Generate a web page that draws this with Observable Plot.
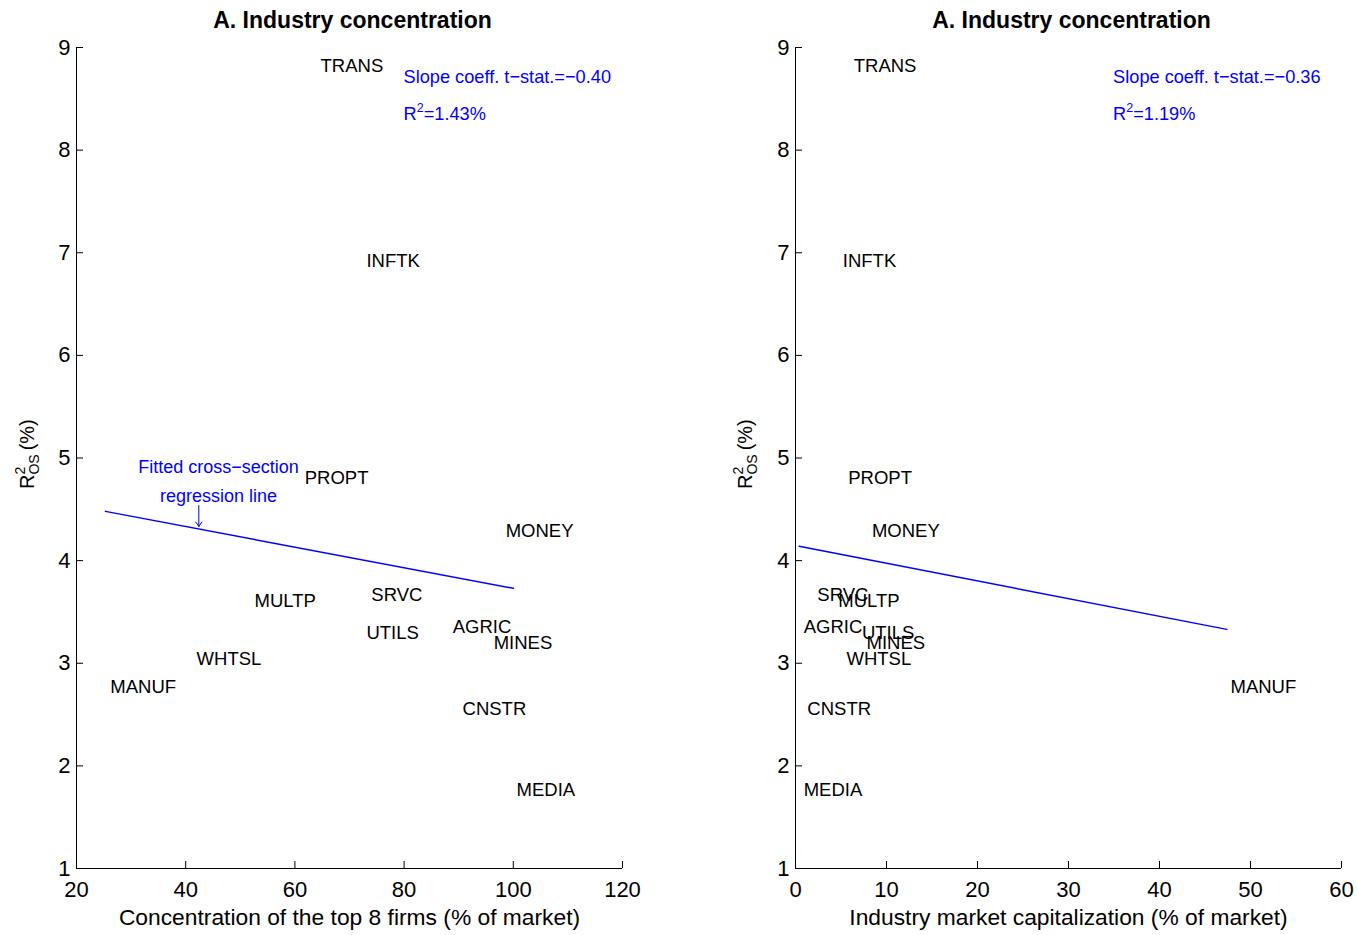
<!DOCTYPE html>
<html>
<head>
<meta charset="utf-8">
<script src="https://cdn.jsdelivr.net/npm/d3@7"></script>
<script src="https://cdn.jsdelivr.net/npm/@observablehq/plot@0.6"></script>
<style>
  html, body { margin: 0; padding: 0; background: #fff; }
  #row { display: flex; flex-direction: row; width: 1357px; height: 935px; }
  svg { font-family: "Liberation Sans", Arial, Helvetica, sans-serif; }
</style>
</head>
<body>
<div id="row"></div>
<script>
// ---- Data ----
const industries = ["TRANS","INFTK","PROPT","MONEY","MULTP","SRVC","UTILS","AGRIC","MINES","WHTSL","MANUF","CNSTR","MEDIA"];
const r2os       = [8.82, 6.92, 4.80, 4.29, 3.61, 3.66, 3.29, 3.35, 3.20, 3.04, 2.77, 2.55, 1.76];
const top8Conc   = [64.7, 73.1, 61.8, 98.6, 52.6, 74.0, 73.1, 88.9, 96.4, 42.0, 26.2, 90.7, 100.6];
const mktCap     = [6.4, 5.2, 5.8, 8.4, 4.7, 2.4, 7.3, 0.9, 7.8, 5.6, 47.8, 1.3, 0.9];

const fitAx = [25.3, 100], fitAy = [4.48, 3.73];
const fitBx = [0.4, 47.4], fitBy = [4.14, 3.33];

const xTicksA = [20, 40, 60, 80, 100, 120];
const xTicksB = [0, 10, 20, 30, 40, 50, 60];
const yTicks  = [1, 2, 3, 4, 5, 6, 7, 8, 9];

const titleText = "A. Industry concentration";
const xLabelA = "Concentration of the top 8 firms (% of market)";
const xLabelB = "Industry market capitalization (% of market)";
const statA = ["Slope coeff. t\u2212stat.=\u22120.40", "R\u00b2=1.43%"];
const statB = ["Slope coeff. t\u2212stat.=\u22120.36", "R\u00b2=1.19%"];
const statAx = 79.9, statBx = 34.9, statYs = [8.71, 8.35];

const fitNote = ["Fitted cross\u2212section", "regression line"];
const fitNoteX = 46.0, fitNoteYs = [4.906, 4.623];
const arrowA = {x: 42.4, y1: 4.537, y2: 4.333};

const H = 935, MT = 47, MB = 67;
const FW = 546, FH = H - MT - MB;
const FONT = '"Liberation Sans", Arial, Helvetica, sans-serif';

function panel({xs, xDomain, xTicks, xLabel, fitX, fitY, stat, statX, ml, mr, width, extra, ylabX}) {
  const pts = industries.map((name, i) => ({name, x: xs[i], y: r2os[i]}));
  const fit = fitX.map((x, i) => ({x, y: fitY[i]}));
  const x0 = xDomain[0];
  const marks = [
    Plot.ruleY([1], {stroke: "black", strokeWidth: 1}),
    Plot.ruleX([x0], {stroke: "black", strokeWidth: 1}),
    Plot.tickX(xTicks, {x: d => d, stroke: "black", insetTop: FH - 7}),
    Plot.tickY(yTicks, {y: d => d, stroke: "black", insetRight: FW - 7}),
    Plot.text(xTicks, {x: d => d, y: 1, dy: 21, text: d => String(d), fontSize: 22, fill: "black"}),
    Plot.text(yTicks, {x: x0, y: d => d, dx: -6, text: d => String(d), textAnchor: "end", fontSize: 22, fill: "black"}),
    Plot.text([xLabel], {frameAnchor: "bottom", dy: 56, fontSize: 22.8, fill: "black"}),
    Plot.text([titleText], {frameAnchor: "top", dy: -20, dx: 3, fontSize: 23, fontWeight: "bold", fill: "black", lineAnchor: "bottom"}),
    Plot.line(fit, {x: "x", y: "y", stroke: "#0000ff", strokeWidth: 1.5}),
    Plot.text(pts, {x: "x", y: "y", text: "name", textAnchor: "start", fontSize: 18.5, fill: "black"}),
    Plot.text(stat.map((t, i) => ({t, y: statYs[i]})), {x: statX, y: "y", text: "t", textAnchor: "start", fontSize: 18.2, fill: "#0000ff"}),
    ...extra
  ];
  const svg = Plot.plot({
    width, height: H,
    marginLeft: ml, marginRight: mr, marginTop: MT, marginBottom: MB,
    x: {domain: xDomain, axis: null},
    y: {domain: [1, 9], axis: null},
    style: {fontFamily: FONT, background: "white", overflow: "visible"},
    marks
  });
  // raise the "2" in R² as a real superscript
  d3.select(svg).selectAll("text").each(function() {
    const s = this.textContent;
    if (this.childElementCount === 0 && s.includes("\u00b2")) {
      const [a, b] = s.split("\u00b2");
      const el = d3.select(this);
      el.text(a);
      el.append("tspan").attr("font-size", 12.5).attr("dy", -8).text("2");
      el.append("tspan").attr("dy", 8).text(b);
    }
  });
  // y-axis label with stacked super/subscript
  const t = d3.select(svg).append("text")
    .attr("transform", `translate(${ylabX},489) rotate(-90)`)
    .attr("text-anchor", "start")
    .attr("font-family", FONT)
    .attr("font-size", 20)
    .attr("fill", "black");
  t.append("tspan").text("R");
  t.append("tspan").attr("font-size", 14).attr("dy", -9).text("2");
  t.append("tspan").attr("font-size", 14).attr("dx", -7.8).attr("dy", 14).text("OS");
  t.append("tspan").attr("dy", -5).text("\u2009(%)");
  return svg;
}

const row = document.getElementById("row");

row.appendChild(panel({
  xs: top8Conc, xDomain: [20, 120], xTicks: xTicksA, xLabel: xLabelA,
  fitX: fitAx, fitY: fitAy, stat: statA, statX: statAx,
  ml: 76, mr: 56, width: 678, ylabX: 34,
  extra: [
    Plot.text(fitNote.map((t, i) => ({t, y: fitNoteYs[i]})), {x: fitNoteX, y: "y", text: "t", fontSize: 18, fill: "#0000ff"}),
    Plot.arrow([arrowA], {x1: "x", x2: "x", y1: "y1", y2: "y2", stroke: "#0000ff", strokeWidth: 1, headLength: 8, headAngle: 70})
  ]
}));

row.appendChild(panel({
  xs: mktCap, xDomain: [0, 60], xTicks: xTicksB, xLabel: xLabelB,
  fitX: fitBx, fitY: fitBy, stat: statB, statX: statBx,
  ml: 117, mr: 16, width: 679, ylabX: 74,
  extra: []
}));
</script>
</body>
</html>
